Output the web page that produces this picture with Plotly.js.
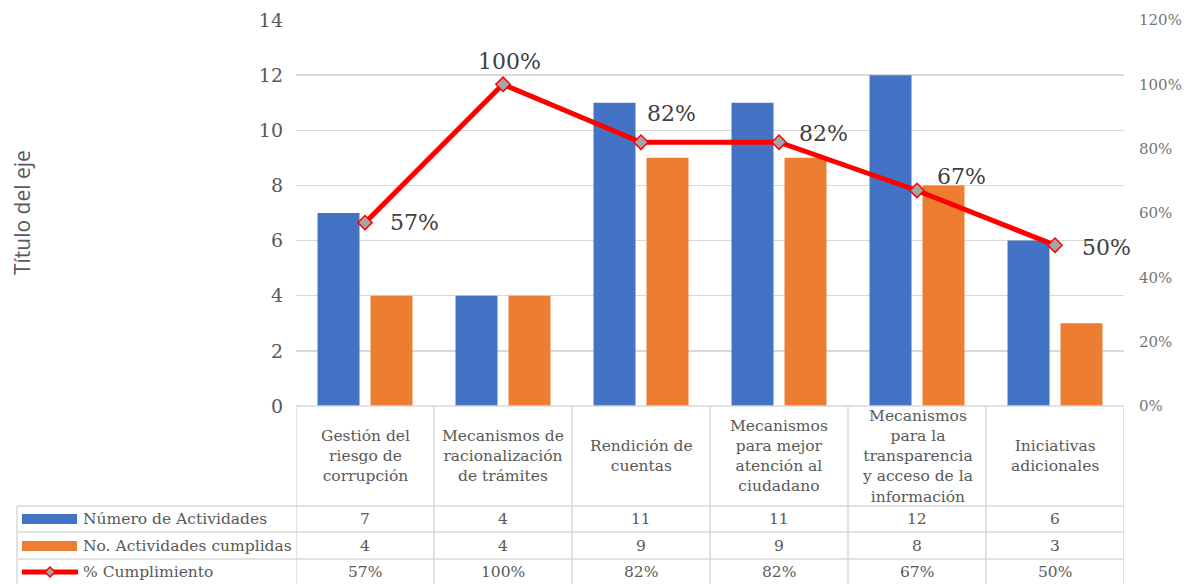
<!DOCTYPE html>
<html>
<head>
<meta charset="utf-8">
<script src="https://cdn.plot.ly/plotly-3.0.1.min.js"></script>
<style>
  body { margin: 0; background: #fff; }
  #chart { width: 1185px; height: 584px; }
</style>
</head>
<body>
<div id="chart"></div>
<script>
// chart data
const categories = [
    'Gestión del<br>riesgo de<br>corrupción',
    'Mecanismos de<br>racionalización<br>de trámites',
    'Rendición de<br>cuentas',
    'Mecanismos<br>para mejor<br>atención al<br>ciudadano',
    'Mecanismos<br>para la<br>transparencia<br>y acceso de la<br>información',
    'Iniciativas<br>adicionales'
];
const numActividades = [7, 4, 11, 11, 12, 6];
const actCumplidas = [4, 4, 9, 9, 8, 3];
const pctCumplimiento = [0.57, 1.00, 0.82, 0.82, 0.67, 0.50];
const seriesNames = ['Número de Actividades', 'No. Actividades cumplidas', '% Cumplimiento'];
const yTicksLeft = [0, 2, 4, 6, 8, 10, 12, 14];

// plot area in px (used to place the data table underneath)
const L = 296, R = 1124, T = 20, B = 406;
const px2x = px => (px - L) / (R - L);
const px2y = py => (B - py) / (B - T);

const serif = 'DejaVu Serif';
const grid = '#d9d9d9';
const txt = '#595959';

const fmtPct = v => Math.round(v * 100) + '%';

const data = [{
    type: 'bar',
    x: categories,
    y: numActividades,
    name: seriesNames[0],
    marker: {color: '#4472c4'},
    hoverinfo: 'y'
}, {
    type: 'bar',
    x: categories,
    y: actCumplidas,
    name: seriesNames[1],
    marker: {color: '#ed7d31'},
    hoverinfo: 'y'
}, {
    type: 'scatter',
    mode: 'lines+markers',
    x: categories,
    y: pctCumplimiento,
    yaxis: 'y2',
    name: seriesNames[2],
    line: {color: '#ff0000', width: 5},
    marker: {symbol: 'diamond', size: 11, color: '#a5a5a5', line: {color: '#ff0000', width: 1.5}},
    cliponaxis: false,
    hoverinfo: 'y'
}];

// table grid
const shapes = [];
const hline = (py, x0px) => shapes.push({
    type: 'line', xref: 'paper', yref: 'paper',
    x0: px2x(x0px), x1: 1, y0: px2y(py), y1: px2y(py),
    line: {color: grid, width: 1.5}
});
hline(406, L);
hline(506, 17);
hline(532, 17);
hline(559, 17);
for (let i = 0; i <= categories.length; i++) {
    shapes.push({
        type: 'line', xref: 'x', yref: 'paper',
        x0: i - 0.5, x1: i - 0.5, y0: px2y(406), y1: px2y(586),
        line: {color: grid, width: 1.5}
    });
}
shapes.push({
    type: 'line', xref: 'paper', yref: 'paper',
    x0: px2x(17), x1: px2x(17), y0: px2y(506), y1: px2y(586),
    line: {color: grid, width: 1.5}
});

// legend keys inside the table
const rowY = [519, 546, 572];
shapes.push({type: 'rect', xref: 'paper', yref: 'paper', x0: px2x(22), x1: px2x(77),
    y0: px2y(rowY[0] - 5), y1: px2y(rowY[0] + 5), fillcolor: '#4472c4', line: {width: 0}});
shapes.push({type: 'rect', xref: 'paper', yref: 'paper', x0: px2x(22), x1: px2x(77),
    y0: px2y(rowY[1] - 5), y1: px2y(rowY[1] + 5), fillcolor: '#ed7d31', line: {width: 0}});
shapes.push({type: 'line', xref: 'paper', yref: 'paper', x0: px2x(22), x1: px2x(78),
    y0: px2y(rowY[2]), y1: px2y(rowY[2]), line: {color: '#ff0000', width: 5}});
const dx = 5, cx = 50, cy = rowY[2];
shapes.push({type: 'path', xref: 'paper', yref: 'paper',
    path: `M ${px2x(cx - dx)} ${px2y(cy)} L ${px2x(cx)} ${px2y(cy - dx)} L ${px2x(cx + dx)} ${px2y(cy)} L ${px2x(cx)} ${px2y(cy + dx)} Z`,
    fillcolor: '#a5a5a5', line: {color: '#ff0000', width: 1.5}});

const annotations = [];
const cellFont = {family: serif, size: 15.5, color: txt};

// header row with the category names
categories.forEach((c, i) => {
    annotations.push({x: i, xref: 'x', y: px2y(456), yref: 'paper', text: c,
        xanchor: 'center', yanchor: 'middle',
        showarrow: false, font: cellFont, align: 'center'});
});

// value rows
const rows = [numActividades.map(String), actCumplidas.map(String), pctCumplimiento.map(fmtPct)];
rows.forEach((vals, r) => {
    annotations.push({x: px2x(81), xref: 'paper', y: px2y(rowY[r]), yref: 'paper',
        text: seriesNames[r], xanchor: 'left', yanchor: 'middle', showarrow: false, font: cellFont});
    vals.forEach((v, i) => {
        annotations.push({x: i, xref: 'x', y: px2y(rowY[r]), yref: 'paper', text: v,
            xanchor: 'center', yanchor: 'middle', showarrow: false, font: cellFont});
    });
});

// data labels of the line
const labelShift = [[23, 0, 'left'], [6, 23, 'center'], [4, 29, 'left'], [18, 9, 'left'], [18, 14, 'left'], [25, -2, 'left']];
pctCumplimiento.forEach((v, i) => {
    annotations.push({x: i, xref: 'x', y: v, yref: 'y2', text: fmtPct(v),
        xanchor: labelShift[i][2], yanchor: 'middle', xshift: labelShift[i][0], yshift: labelShift[i][1],
        showarrow: false, font: {family: serif, size: 22, color: '#404040'}});
});

// axis title
annotations.push({x: px2x(22), xref: 'paper', y: 0.5, yref: 'paper', text: 'Título del eje',
    xanchor: 'center', yanchor: 'middle',
    textangle: -90, showarrow: false, font: {family: 'Open Sans', size: 21, color: txt}});

const layout = {
    width: 1185,
    height: 584,
    margin: {l: L, r: 1185 - R, t: T, b: 584 - B},
    paper_bgcolor: '#fff',
    plot_bgcolor: '#fff',
    showlegend: false,
    barmode: 'group',
    bargap: 0.232,
    bargroupgap: 0.2075,
    xaxis: {
        type: 'category',
        range: [-0.5, categories.length - 0.5],
        showticklabels: false,
        showgrid: false,
        zeroline: false,
        showline: false,
        ticks: ''
    },
    yaxis: {
        range: [0, 14],
        tickvals: yTicksLeft,
        showgrid: true,
        gridcolor: grid,
        gridwidth: 1.5,
        zeroline: false,
        ticks: '',
        ticklabelstandoff: 12,
        tickfont: {family: serif, size: 19, color: txt}
    },
    yaxis2: {
        overlaying: 'y',
        side: 'right',
        range: [0, 1.2],
        dtick: 0.2,
        tickformat: '.0%',
        showgrid: false,
        zeroline: false,
        ticks: '',
        ticklabelstandoff: 14,
        tickfont: {family: serif, size: 15, color: '#767676'}
    },
    shapes: shapes,
    annotations: annotations
};

Plotly.newPlot('chart', data, layout, {displayModeBar: false, staticPlot: true});
</script>
</body>
</html>
